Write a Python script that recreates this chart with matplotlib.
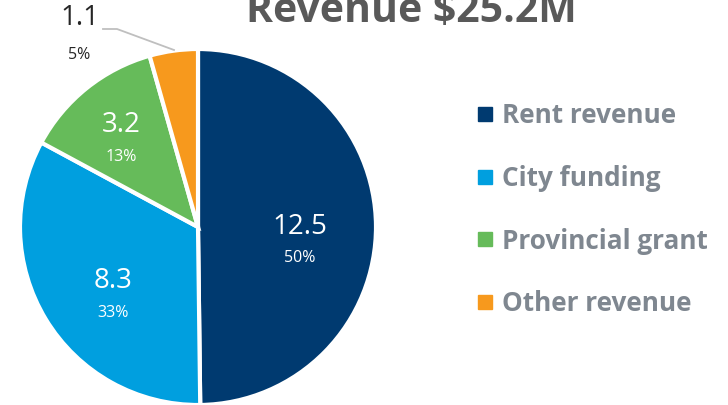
import matplotlib
matplotlib.use("Agg")
import matplotlib.pyplot as plt
from matplotlib.lines import Line2D

categories = ["Rent revenue", "City funding", "Provincial grant", "Other revenue"]
values = [12.5, 8.3, 3.2, 1.1]
pct_labels = ["50%", "33%", "13%", "5%"]
colors = ["#003A70", "#009FDF", "#66BB5A", "#F7991D"]
title = "Revenue $25.2M"

plt.rcParams['font.family'] = ['Open Sans', 'DejaVu Sans']

W, H = 728, 405
fig = plt.figure(figsize=(W / 100, H / 100), dpi=100)
ax = fig.add_axes([0, 0, 1, 1])
ax.set_xlim(0, W)
ax.set_ylim(-H, 0)
ax.set_aspect('equal')
ax.axis('off')

cx, cy, R = 198, -227, 178
wedges, _ = ax.pie(values, colors=colors, startangle=90, counterclock=False,
                   center=(cx, cy), radius=R,
                   wedgeprops=dict(edgecolor='white', linewidth=3))
ax.set_xlim(0, W)
ax.set_ylim(-H, 0)

# inside labels (value, pct) positions in pixel coords (y down)
label_pos = [(300, 227, 258), (113, 281, 313), (121, 125, 157)]
for i, (x, yv, yp) in enumerate(label_pos):
    ax.text(x, -yv, f"{values[i]}", color='white', fontsize=20, ha='center', va='center')
    ax.text(x, -yp, pct_labels[i], color='white', fontsize=11.5, ha='center', va='center')

# outside label for the small slice
ax.text(80, -18, f"{values[3]}", color='#262626', fontsize=20, ha='center', va='center')
ax.text(79, -55, pct_labels[3], color='#262626', fontsize=11.5, ha='center', va='center')
ax.plot([103, 117, 174], [-29, -29, -50], color='#BFBFBF', lw=1.3)

# title
fig.text(411 / W, 1 - 22 / H, title, ha='center', va='baseline', fontsize=29.5,
         fontweight='bold', color='#595959')

# legend
handles = [Line2D([], [], marker='s', linestyle='none', markersize=9.5,
                  markerfacecolor=c, markeredgecolor=c) for c in colors]
leg = fig.legend(handles, categories, loc='upper left', bbox_to_anchor=(459 / W, 1 - 89 / H),
                 frameon=False, handletextpad=0.15, labelspacing=1.37, fontsize=18.8,
                 handlelength=1.0, borderpad=0)
for t in leg.get_texts():
    t.set_color('#7F8790')
    t.set_fontweight('bold')

fig.savefig("out.png", dpi=100)
